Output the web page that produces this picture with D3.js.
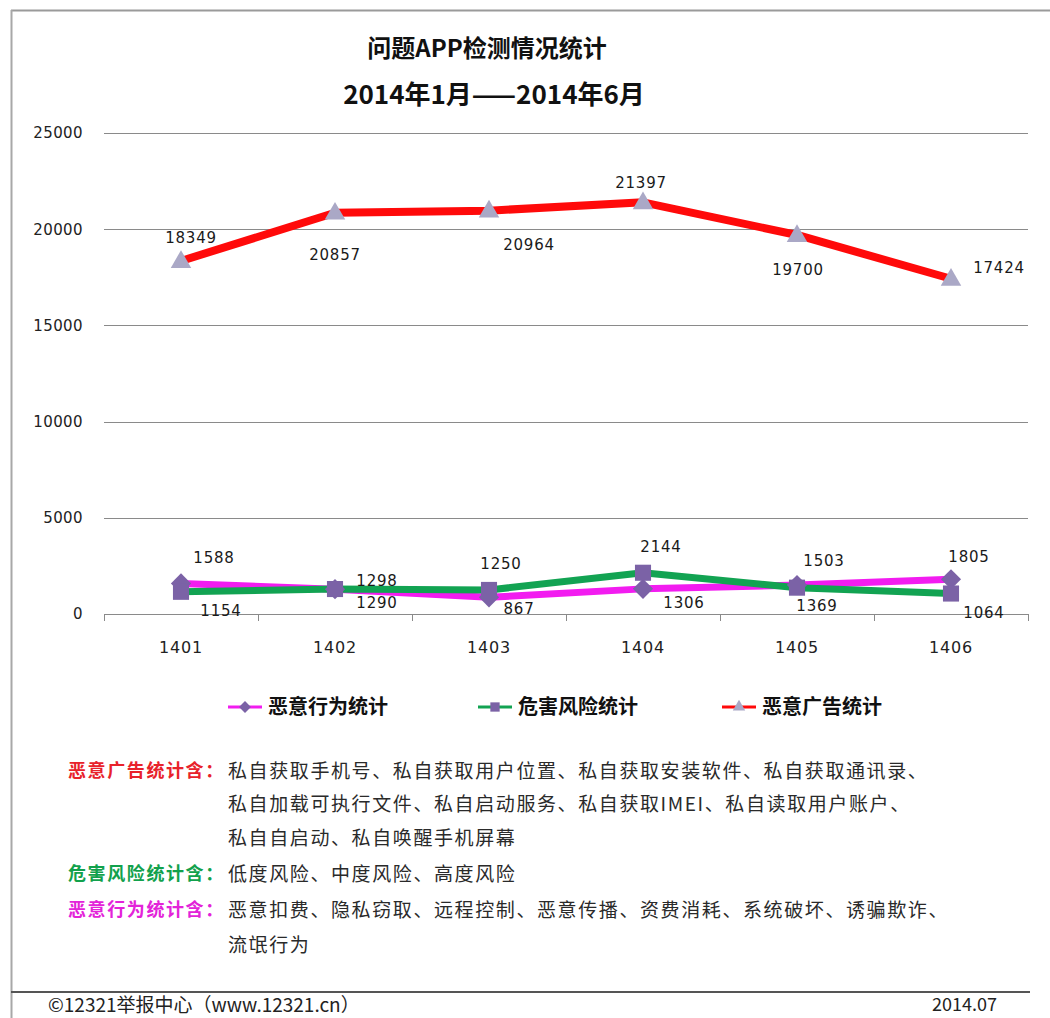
<!DOCTYPE html>
<html>
<head>
<meta charset="utf-8">
<script src="https://cdn.jsdelivr.net/npm/d3@7/dist/d3.min.js"></script>
<style>
  html, body { margin: 0; padding: 0; background: #fff; }
  svg { display: block; }
</style>
</head>
<body>
<svg id="chart" width="1050" height="1018"></svg>
<script>
// ---------- data ----------
const categories = ["1401", "1402", "1403", "1404", "1405", "1406"];
const behaviorValues = [1588, 1290, 867, 1306, 1503, 1805];      // 恶意行为统计
const riskValues     = [1154, 1298, 1250, 2144, 1369, 1064];     // 危害风险统计
const adValues       = [18349, 20857, 20964, 21397, 19700, 17424]; // 恶意广告统计
const yTicks = [0, 5000, 10000, 15000, 20000, 25000];
const seriesNames = ["恶意行为统计", "危害风险统计", "恶意广告统计"];
const titleLines = ["问题APP检测情况统计", "2014年1月——2014年6月"];

// label nudges (dx, dy) relative to each point – annotation layout
const behaviorNudge = [[33,-26],[42,13],[30,11],[41,14],[27,-24],[18,-23]];
const riskNudge     = [[40,19],[42,-8],[12,-26],[18,-26],[20,18],[33,19]];
const adNudge       = [[10,-23],[0,42],[40,34],[-2,-20],[1,35],[48,-11]];

const notes = [
  { label: "恶意广告统计含：", color: "#e8222b", lines: [
      "私自获取手机号、私自获取用户位置、私自获取安装软件、私自获取通讯录、",
      "私自加载可执行文件、私自启动服务、私自获取IMEI、私自读取用户账户、",
      "私自自启动、私自唤醒手机屏幕"] },
  { label: "危害风险统计含：", color: "#12a14c", lines: ["低度风险、中度风险、高度风险"] },
  { label: "恶意行为统计含：", color: "#e323d9", lines: [
      "恶意扣费、隐私窃取、远程控制、恶意传播、资费消耗、系统破坏、诱骗欺诈、",
      "流氓行为"] }
];
const footerLeft = "©12321举报中心（www.12321.cn）";
const footerRight = "2014.07";

// ---------- layout ----------
const svg = d3.select("#chart");
const plot = { left: 104, right: 1028, top: 133, bottom: 614 };
const x = d3.scaleBand().domain(categories).range([plot.left, plot.right]);
const y = d3.scaleLinear().domain([0, 25000]).range([plot.bottom, plot.top]);
const cx = d => x(d) + x.bandwidth() / 2;

const latin = "'DejaVu Sans', Verdana, sans-serif";
const cjk = "'Noto Sans CJK SC', 'Noto Sans', sans-serif";

// frame (spreadsheet edges)
svg.append("line").attr("x1", 11).attr("x2", 1050).attr("y1", 10.5).attr("y2", 10.5)
  .attr("stroke", "#9a9a9a").attr("stroke-width", 2);
svg.append("line").attr("x1", 11.5).attr("x2", 11.5).attr("y1", 10).attr("y2", 1018)
  .attr("stroke", "#a8a8a8").attr("stroke-width", 2);
svg.append("line").attr("x1", 11).attr("x2", 1030).attr("y1", 992).attr("y2", 992)
  .attr("stroke", "#555").attr("stroke-width", 2);

// title
svg.append("g").selectAll("text").data(titleLines).join("text")
  .attr("x", (d, i) => i === 0 ? 487 : 494)
  .attr("y", (d, i) => i === 0 ? 57 : 104)
  .attr("text-anchor", "middle")
  .style("font-family", cjk).style("font-weight", "bold")
  .style("font-size", (d, i) => i === 0 ? "24px" : "26px")
  .attr("fill", "#111")
  .text(d => d);

// gridlines
svg.append("g").selectAll("line").data(yTicks.filter(t => t > 0)).join("line")
  .attr("x1", plot.left).attr("x2", plot.right)
  .attr("y1", d => Math.round(y(d)) + 0.5).attr("y2", d => Math.round(y(d)) + 0.5)
  .attr("stroke", "#8a8a8a").attr("stroke-width", 1);

// y axis labels
const yAxis = d3.axisLeft(y).tickValues(yTicks).tickSize(0).tickPadding(21).tickFormat(d3.format("d"));
const yg = svg.append("g").attr("transform", `translate(${plot.left},0)`).call(yAxis);
yg.select(".domain").remove();
yg.selectAll("text").style("font-family", latin).style("font-size", "15px")
  .style("letter-spacing", "0.4px").attr("fill", "#222");

// x axis
const xAxis = d3.axisBottom(x).tickSize(0).tickPadding(28);
const xg = svg.append("g").attr("transform", `translate(0,${plot.bottom})`).call(xAxis);
xg.select(".domain").attr("stroke", "#8a8a8a").attr("d", `M${plot.left},0.5H${plot.right}`);
xg.selectAll("text").style("font-family", latin).style("font-size", "16px")
  .style("letter-spacing", "0.8px").attr("fill", "#222");
// boundary ticks
const bounds = categories.map(c => x(c)).concat([plot.right]);
xg.append("g").selectAll("line").data(bounds).join("line")
  .attr("x1", d => Math.round(d) + 0.5).attr("x2", d => Math.round(d) + 0.5)
  .attr("y1", 0).attr("y2", 7).attr("stroke", "#8a8a8a");

// series
const markerFill = "#7b62a6";
const series = [
  { name: seriesNames[0], values: behaviorValues, color: "#f21cf0", width: 7, marker: "diamond", mfill: markerFill, nudge: behaviorNudge },
  { name: seriesNames[1], values: riskValues, color: "#12a352", width: 7, marker: "square", mfill: markerFill, nudge: riskNudge },
  { name: seriesNames[2], values: adValues, color: "#ff0a0a", width: 8, marker: "triangle", mfill: "#aaa8c6", nudge: adNudge }
];
const symbolType = { diamond: d3.symbolDiamond2, square: d3.symbolSquare2, triangle: d3.symbolTriangle2 };
const symbolSize = { diamond: 260, square: 330, triangle: 300 };
const legendSize = { diamond: 90, square: 110, triangle: 110 };
const line = d3.line().x((d, i) => cx(categories[i])).y(d => y(d));

series.forEach(s => {
  svg.append("path").datum(s.values).attr("d", line)
    .attr("fill", "none").attr("stroke", s.color).attr("stroke-width", s.width)
    .attr("stroke-linejoin", "round");
});
series.forEach(s => {
  svg.append("g").selectAll("path").data(s.values).join("path")
    .attr("d", d3.symbol().type(symbolType[s.marker]).size(symbolSize[s.marker]))
    .attr("transform", (d, i) => `translate(${cx(categories[i])},${y(d) + (s.marker === "triangle" ? 1 : 0)})`)
    .attr("fill", s.mfill);
});
series.forEach(s => {
  svg.append("g").selectAll("text").data(s.values).join("text")
    .attr("x", (d, i) => cx(categories[i]) + s.nudge[i][0])
    .attr("y", (d, i) => y(d) + s.nudge[i][1])
    .attr("dy", "0.36em").attr("text-anchor", "middle")
    .style("font-family", latin).style("font-size", "15px").style("letter-spacing", "0.8px")
    .attr("fill", "#1a1a1a")
    .text(d => d);
});

// legend
const legendX = [228, 478, 722];
const lg = svg.append("g");
series.forEach((s, i) => {
  const g = lg.append("g").attr("transform", `translate(${legendX[i]},707)`);
  g.append("line").attr("x1", 0).attr("x2", 34).attr("y1", 0).attr("y2", 0)
    .attr("stroke", s.color).attr("stroke-width", 3);
  g.append("path").attr("d", d3.symbol().type(symbolType[s.marker]).size(legendSize[s.marker]))
    .attr("transform", "translate(17,0)").attr("fill", s.mfill);
  g.append("text").attr("x", 40).attr("y", 0).attr("dy", "0.36em")
    .style("font-family", cjk).style("font-weight", "bold").style("font-size", "20px")
    .attr("fill", "#111").text(s.name);
});

// notes
const lineYs = [771, 804, 838, 874, 910, 945];
let li = 0;
const ng = svg.append("g");
notes.forEach(n => {
  ng.append("text").attr("x", 68).attr("y", lineYs[li]).attr("dy", "0.36em")
    .style("font-family", cjk).style("font-weight", "bold").style("font-size", "18px")
    .style("letter-spacing", "1.6px").attr("fill", n.color).text(n.label);
  n.lines.forEach(t => {
    ng.append("text").attr("x", 228).attr("y", lineYs[li]).attr("dy", "0.36em")
      .style("font-family", cjk).style("font-size", "19px").style("letter-spacing", "1.6px")
      .attr("fill", "#2a2a2a").text(t);
    li++;
  });
});

// footer
svg.append("text").attr("x", 48).attr("y", 1005).attr("dy", "0.36em")
  .style("font-family", cjk).style("font-size", "19px").attr("fill", "#222").text(footerLeft);
svg.append("text").attr("x", 997).attr("y", 1005).attr("dy", "0.36em").attr("text-anchor", "end")
  .style("font-family", cjk).style("font-size", "18px").attr("fill", "#222").text(footerRight);
</script>
</body>
</html>
